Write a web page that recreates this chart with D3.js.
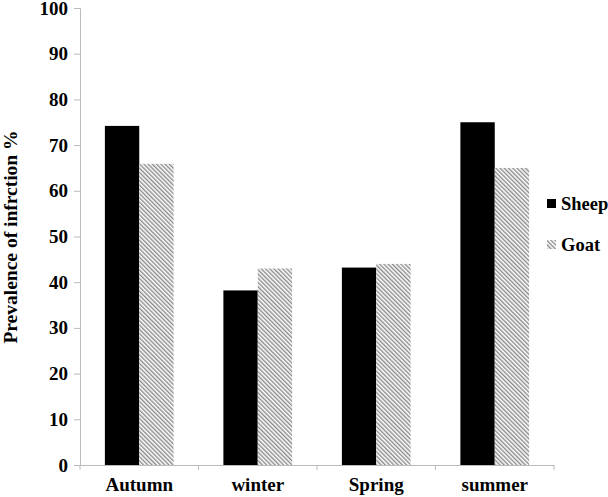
<!DOCTYPE html>
<html><head><meta charset="utf-8">
<script src="https://cdn.jsdelivr.net/npm/d3@7"></script>
<style>body{margin:0;background:#fff}</style>
</head><body><svg id="c" width="608" height="497"></svg>
<script>
const categories = ["Autumn","winter","Spring","summer"];
const seriesNames = ["Sheep","Goat"];
const sheep = [74.2, 38.2, 43.2, 75];
const goat = [65.9, 43, 44, 65];
const yTicks = [0,10,20,30,40,50,60,70,80,90,100];
const FONT = "Liberation Serif";

const svg = d3.select("#c");
const defs = svg.append("defs");
const pat = defs.append("pattern").attr("id","hatch").attr("patternUnits","userSpaceOnUse")
  .attr("width",3).attr("height",3).attr("patternTransform","rotate(-45)");
pat.append("rect").attr("width",3).attr("height",3).attr("fill","#fff");
pat.append("rect").attr("width",1.4).attr("height",3).attr("fill","#8a8a8a");

const x0=80, x1=554, yTop=8, yBot=465;
const x = d3.scaleBand().domain(categories).range([x0,x1]).paddingInner(0.42).paddingOuter(0.21);
const xs = d3.scaleBand().domain(seriesNames).range([0,x.bandwidth()]);
const y = d3.scaleLinear().domain([0,100]).range([yBot,yTop]);

// y axis
const ya = svg.append("g").attr("transform",`translate(${x0},0)`)
  .call(d3.axisLeft(y).tickValues(yTicks).tickSize(6).tickPadding(6));
ya.attr("font-family",FONT);
ya.select(".domain").attr("stroke","#bbb");
ya.selectAll(".tick line").attr("stroke","#bbb");
ya.selectAll(".tick text").attr("font-size",19).attr("font-weight","bold").attr("font-family",FONT).attr("fill","#000");

// x axis
const xa = svg.append("g").attr("transform",`translate(0,${yBot})`)
  .call(d3.axisBottom(x).tickSize(0).tickPadding(13));
xa.attr("font-family",FONT);
xa.select(".domain").attr("stroke","#bbb");
xa.selectAll(".tick text").attr("font-size",19).attr("font-weight","bold").attr("font-family",FONT).attr("fill","#000");
const bounds = d3.range(categories.length+1).map(i => x0 + i*(x1-x0)/categories.length);
xa.selectAll(".bt").data(bounds).join("line").attr("class","bt")
  .attr("x1",d=>d).attr("x2",d=>d).attr("y1",0).attr("y2",5).attr("stroke","#bbb");

// bars
const data = categories.map((c,i)=>({c, vals:[{s:"Sheep",v:sheep[i]},{s:"Goat",v:goat[i]}]}));
const g = svg.append("g");
data.forEach(d=>{
  g.selectAll(null).data(d.vals).join("rect")
    .attr("x",v=>x(d.c)+xs(v.s)).attr("width",xs.bandwidth())
    .attr("y",v=>y(v.v)).attr("height",v=>yBot-y(v.v))
    .attr("fill",v=>v.s==="Sheep"?"#000":"url(#hatch)");
});

// y title
svg.append("text").attr("transform","translate(17,237) rotate(-90)").attr("text-anchor","middle")
  .attr("font-family",FONT).attr("font-weight","bold")
  .attr("font-size",19.5).text("Prevalence of infrction %");

// legend
const lg = svg.append("g");
seriesNames.forEach((s,i)=>{
  const yy = 204 + i*41;
  lg.append("rect").attr("x",547).attr("y",yy-5).attr("width",9).attr("height",9)
    .attr("fill", s==="Sheep"?"#000":"url(#hatch)");
  lg.append("text").attr("x",561).attr("y",yy+6).attr("font-size",18.5)
    .attr("font-family",FONT).attr("font-weight","bold").text(s);
});
</script></body></html>
